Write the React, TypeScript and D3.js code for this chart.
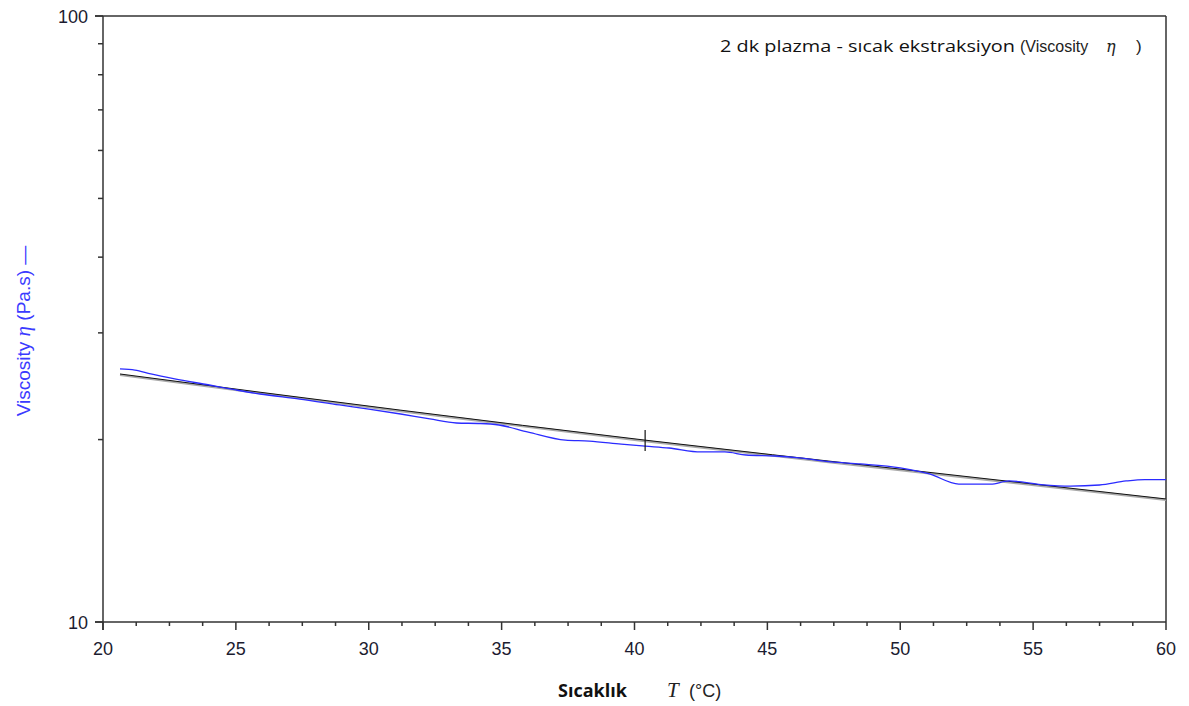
import React from "react";
import * as d3 from "d3";

const tempBlue = [20.64, 21.2, 21.8, 22.7, 24.0, 25.0, 25.9, 27.4, 28.9, 30.0, 31.2, 32.3, 33.3, 34.2, 34.9, 36.0, 37.4, 38.3, 39.5, 40.4, 41.3, 42.5, 43.4, 44.2, 45.3, 46.2, 47.4, 48.5, 50.0, 51.1, 52.2, 53.4, 54.1, 55.3, 56.4, 57.5, 58.5, 59.2, 60.0];
const viscBlue = [26.16, 26.05, 25.66, 25.18, 24.61, 24.15, 23.78, 23.33, 22.81, 22.46, 22.04, 21.63, 21.3, 21.26, 21.14, 20.58, 19.96, 19.89, 19.66, 19.51, 19.37, 19.08, 19.08, 18.86, 18.79, 18.65, 18.37, 18.23, 17.96, 17.55, 16.89, 16.89, 17.09, 16.86, 16.76, 16.83, 17.09, 17.18, 17.18];

const tempFit = [20.64, 31.18, 40.39, 49.99, 60.0];
const viscFit = [25.66, 22.37, 19.96, 17.88, 15.96];

const cursorT = 40.4;
const cursorV = 19.9;

const xMajor = [20, 25, 30, 35, 40, 45, 50, 55, 60];
const yMajor = [10, 100];

const W = 1189, H = 706;
const L = 103, R = 1166, T = 16, B = 622;

export default function App() {
  const x = d3.scaleLinear().domain([20, 60]).range([L, R]);
  const y = d3.scaleLog().domain([10, 100]).range([B, T]);
  const xMinor = d3.range(20, 60.001, 1.25).filter((v) => Math.abs(v % 5) > 0.01);
  const yMinor = d3.range(20, 100, 10);
  const line = d3.line<[number, number]>().x((d) => x(d[0])).y((d) => y(d[1])).curve(d3.curveMonotoneX);
  const fitLine = d3.line<[number, number]>().x((d) => x(d[0])).y((d) => y(d[1])).curve(d3.curveMonotoneX);
  const blue = tempBlue.map((t, i) => [t, viscBlue[i]] as [number, number]);
  const fit = tempFit.map((t, i) => [t, viscFit[i]] as [number, number]);
  const tickColor = "#1c1c30";
  const font = "'Liberation Sans', Arial, sans-serif";
  return (
    <div style={{ position: "fixed", left: 0, top: 0 }}>
      <svg width={W} height={H} style={{ display: "block", background: "#fff" }}>
        <rect x={0} y={0} width={W} height={H} fill="#fff" />
        {/* frame */}
        <line x1={L - 8} x2={R} y1={T} y2={T} stroke="#333" strokeWidth={1.5} />
        <line x1={R} x2={R} y1={T} y2={B} stroke="#333" strokeWidth={1.5} />
        <line x1={L} x2={L} y1={T} y2={B + 8} stroke="#333" strokeWidth={1.5} />
        <line x1={L - 8} x2={R} y1={B} y2={B} stroke="#333" strokeWidth={1.5} />
        {/* x ticks */}
        {xMajor.map((v) => (
          <g key={"xm" + v}>
            <line x1={x(v)} x2={x(v)} y1={B} y2={B + 8} stroke="#333" strokeWidth={1.5} />
            <text x={x(v)} y={B + 33} textAnchor="middle" fontFamily={font} fontSize={18} fill={tickColor}>{v}</text>
          </g>
        ))}
        {xMinor.map((v) => (
          <line key={"xn" + v} x1={x(v)} x2={x(v)} y1={B} y2={B + 4} stroke="#333" strokeWidth={1.5} />
        ))}
        {/* y ticks */}
        {yMajor.map((v) => (
          <g key={"ym" + v}>
            <line x1={L - 8} x2={L} y1={y(v)} y2={y(v)} stroke="#333" strokeWidth={1.5} />
            <text x={L - 15} y={y(v) + 6.5} textAnchor="end" fontFamily={font} fontSize={18} fill={tickColor}>{v}</text>
          </g>
        ))}
        {yMinor.map((v) => (
          <line key={"yn" + v} x1={L - 5} x2={L} y1={y(v)} y2={y(v)} stroke="#333" strokeWidth={1.5} />
        ))}
        {/* fit lines */}
        <path d={fitLine(fit) ?? ""} fill="none" stroke="#aaa" strokeWidth={2.2} transform="translate(0,1)" />
        <path d={fitLine(fit) ?? ""} fill="none" stroke="#111" strokeWidth={1} />
        {/* data */}
        <path d={line(blue) ?? ""} fill="none" stroke="#2b2bff" strokeWidth={1.3} />
        {/* cursor */}
        <line x1={x(cursorT)} x2={x(cursorT)} y1={y(cursorV) - 11} y2={y(cursorV) + 10} stroke="#111" strokeWidth={1.2} />
        {/* title */}
        <text x={720} y={52} fontFamily="'Open Sans', sans-serif" fontSize={16.5} fill="#111" textLength={295} lengthAdjust="spacingAndGlyphs">2 dk plazma - sıcak ekstraksiyon</text>
        <text x={1020} y={52} fontFamily={font} fontSize={16} fill="#222">(Viscosity</text>
        <text x={1106} y={52} fontFamily="'DejaVu Serif', serif" fontStyle="italic" fontSize={16} fill="#222">η</text>
        <text x={1136} y={52} fontFamily={font} fontSize={17} fill="#222">)</text>
        {/* x label */}
        <text x={558} y={697} fontFamily="'Open Sans', sans-serif" fontWeight="bold" fontSize={17} fill="#111" textLength={69} lengthAdjust="spacingAndGlyphs">Sıcaklık</text>
        <text x={667} y={697} fontFamily="'Liberation Serif', serif" fontStyle="italic" fontSize={21} fill="#222">T</text>
        <text x={689} y={697} fontFamily={font} fontSize={18} fill="#222">(°C)</text>
        {/* y label */}
        <text transform="translate(30,331) rotate(-90)" textAnchor="middle" fontFamily={font} fontSize={19} fill="#3a3aff">
          Viscosity <tspan fontFamily="'Liberation Serif', serif" fontStyle="italic" fontSize={21}>η</tspan> (Pa.s) —
        </text>
      </svg>
    </div>
  );
}
